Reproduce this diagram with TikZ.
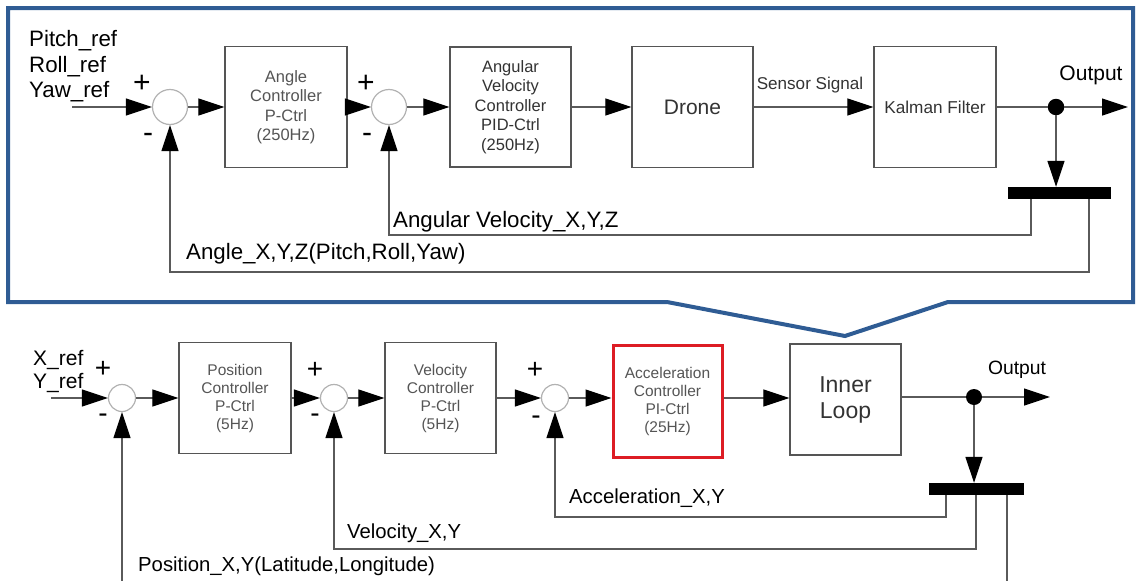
\documentclass[tikz,border=0pt]{standalone}
\usepackage{fontspec}
\setmainfont{Liberation Sans}
\usetikzlibrary{arrows.meta}
\definecolor{frameblue}{HTML}{2F5C94}
\definecolor{linegray}{HTML}{5A5A5A}
\definecolor{boxgray}{HTML}{555555}
\definecolor{txtlight}{HTML}{555555}
\definecolor{txtdark}{HTML}{333333}
\definecolor{ctrlred}{HTML}{DD1C24}
\begin{document}
\begin{tikzpicture}[x=1pt,y=-1pt,
  blockbox/.style={draw=boxgray, line width=1.3pt, fill=white, align=center, inner sep=0pt},
  sumnode/.style={circle, draw=gray!60, line width=1.2pt, fill=white, inner sep=0pt},
  wire/.style={draw=linegray, line width=1.2pt},
  flow/.style={wire, -{Triangle[length=26pt,width=17pt,color=black]}},
  tap/.style={circle, fill=black, inner sep=0pt},
  busbar/.style={fill=black, inner sep=0pt},
  sig/.style={font=\fontsize{22.3}{26}\selectfont, inner sep=0pt, anchor=base west},
  lowsig/.style={font=\fontsize{20.3}{24}\selectfont, inner sep=0pt, anchor=base west},
  sgn/.style={font=\fontsize{30}{30}\selectfont, inner sep=0pt},
  smalltxt/.style={font=\fontsize{16.5}{19.5}\selectfont},
]
\useasboundingbox (0,0) rectangle (1138,581);

% callout frame around the inner (attitude) loop
\draw[frameblue, line width=4pt, line join=miter]
  (8,8) -- (1133,8) -- (1133,302) -- (948,302) -- (845,336) -- (667,302) -- (8,302) -- cycle;

% ---------------- inner loop ----------------
\node[sumnode, minimum size=35pt] (s1) at (170,107) {};
\node[sumnode, minimum size=35pt] (s2) at (389,107) {};
\node[blockbox, smalltxt, text=txtlight, minimum width=122pt, minimum height=121pt] (ang) at (286,107)
  {Angle\\Controller\\P-Ctrl\\(250Hz)};
\node[blockbox, smalltxt, text=txtdark, minimum width=121pt, minimum height=120pt] (angvel) at (510.5,107)
  {Angular\\Velocity\\Controller\\PID-Ctrl\\(250Hz)};
\node[blockbox, text=txtdark, font=\fontsize{21}{24}\selectfont, minimum width=121pt, minimum height=121pt] (drone) at (692.5,107)
  {Drone};
\node[blockbox, font=\fontsize{17.2}{20}\selectfont, text=txtdark, minimum width=122pt, minimum height=121pt] (kal) at (935,107)
  {Kalman Filter};
\node[tap, minimum size=16.5pt] (o1) at (1056,107) {};
\coordinate (o1end) at (1128,107);
\node[busbar, minimum width=103pt, minimum height=12pt] (bar1) at (1059.5,193) {};
\coordinate (in1) at (72,107);
\coordinate (fbv) at (1031,235);
\coordinate (fba) at (1089,272);

\node[sig] (pref) at (29,46) {Pitch\_ref};
\node[sig] (rref) at (29,72) {Roll\_ref};
\node[sig] (yref) at (29,97) {Yaw\_ref};
\node[sgn] (p1) at (142,84) {+};
\node[sgn] (m1) at (148,138) {-};
\node[sgn] (p2) at (366,84) {+};
\node[sgn] (m2) at (367,138) {-};
\node[font=\fontsize{17.1}{20}\selectfont, text=txtdark, inner sep=0pt, anchor=base] (sens) at (810,89) {Sensor Signal};
\node[font=\fontsize{21}{25}\selectfont, inner sep=0pt, anchor=base] (out1) at (1091,80) {Output};
\node[sig] (lav) at (393,227) {Angular Velocity\_X,Y,Z};
\node[sig] (lang) at (186,259) {Angle\_X,Y,Z(Pitch,Roll,Yaw)};

\draw[flow] (in1) -- (s1.west);
\draw[flow] (s1.east) -- (ang.west);
\draw[flow] (ang.east) -- (s2.west);
\draw[flow] (s2.east) -- (angvel.west);
\draw[flow] (angvel.east) -- (drone.west);
\draw[flow] (drone.east) -- (kal.west);
\draw[wire] (kal.east) -- (o1);
\draw[flow] (o1) -- (o1end);
\draw[flow] (o1) -- (o1 |- bar1.north);
\draw[flow] (bar1.south -| fbv) -- (fbv) -| (s2.south);
\draw[flow] (bar1.south -| fba) -- (fba) -| (s1.south);

% ---------------- outer loop ----------------
\node[sumnode, minimum size=27pt] (s3) at (122,398) {};
\node[sumnode, minimum size=27pt] (s4) at (334,398) {};
\node[sumnode, minimum size=27pt] (s5) at (555,398) {};
\node[blockbox, font=\fontsize{15.5}{18}\selectfont, text=txtlight, minimum width=112pt, minimum height=111pt] (pos) at (235,398)
  {Position\\Controller\\P-Ctrl\\(5Hz)};
\node[blockbox, font=\fontsize{15.5}{18}\selectfont, text=txtlight, minimum width=111pt, minimum height=111pt] (vel) at (440.5,398)
  {Velocity\\Controller\\P-Ctrl\\(5Hz)};
\node[blockbox, draw=ctrlred, line width=3pt, font=\fontsize{15.5}{18}\selectfont, text=txtlight, minimum width=109pt, minimum height=112pt] (acc) at (667.5,401)
  {Acceleration\\Controller\\PI-Ctrl\\(25Hz)};
\node[blockbox, text=txtdark, font=\fontsize{23}{26}\selectfont, minimum width=111pt, minimum height=111pt] (inner) at (845.5,399.5)
  {Inner\\Loop};
\node[tap, minimum size=16pt] (o2) at (974,397) {};
\coordinate (o2end) at (1050,397);
\node[busbar, minimum width=95pt, minimum height=12pt] (bar2) at (976.5,489) {};
\coordinate (in2) at (51,398);
\coordinate (fbacc) at (946,517);
\coordinate (fbvel) at (976,549);
\coordinate (fbpos) at (1007,581);
\coordinate (fbposs) at (122,581);

\node[lowsig, font=\fontsize{21}{24}\selectfont] (xref) at (33,365) {X\_ref};
\node[lowsig, font=\fontsize{21}{24}\selectfont] (yrf) at (33,388) {Y\_ref};
\node[sgn, font=\fontsize{28}{28}\selectfont] (p3) at (103,369) {+};
\node[sgn, font=\fontsize{28}{28}\selectfont] (m3) at (103,418) {-};
\node[sgn, font=\fontsize{28}{28}\selectfont] (p4) at (315,370) {+};
\node[sgn, font=\fontsize{28}{28}\selectfont] (m4) at (315,418) {-};
\node[sgn, font=\fontsize{28}{28}\selectfont] (p5) at (535,370) {+};
\node[sgn, font=\fontsize{28}{28}\selectfont] (m5) at (536,420) {-};
\node[font=\fontsize{19.3}{23}\selectfont, inner sep=0pt, anchor=base] (out2) at (1017,374) {Output};
\node[lowsig] (lacc) at (569,503) {Acceleration\_X,Y};
\node[lowsig] (lvel) at (347,538) {Velocity\_X,Y};
\node[lowsig] (lpos) at (138,571) {Position\_X,Y(Latitude,Longitude)};

\draw[flow] (in2) -- (s3.west);
\draw[flow] (s3.east) -- (pos.west);
\draw[flow] (pos.east) -- (s4.west);
\draw[flow] (s4.east) -- (vel.west);
\draw[flow] (vel.east) -- (s5.west);
\draw[flow] (s5.east) -- (acc.west |- s5);
\draw[flow] (acc.east |- s5) -- (inner.west |- s5);
\draw[wire] (inner.east |- o2) -- (o2);
\draw[flow] (o2) -- (o2end);
\draw[flow] (o2) -- (o2 |- bar2.north);
\draw[flow] (bar2.south -| fbacc) -- (fbacc) -| (s5.south);
\draw[flow] (bar2.south -| fbvel) -- (fbvel) -| (s4.south);
\draw[wire] (bar2.south -| fbpos) -- (fbpos);
\draw[flow] (fbposs) -- (s3.south);
\end{tikzpicture}
\end{document}
